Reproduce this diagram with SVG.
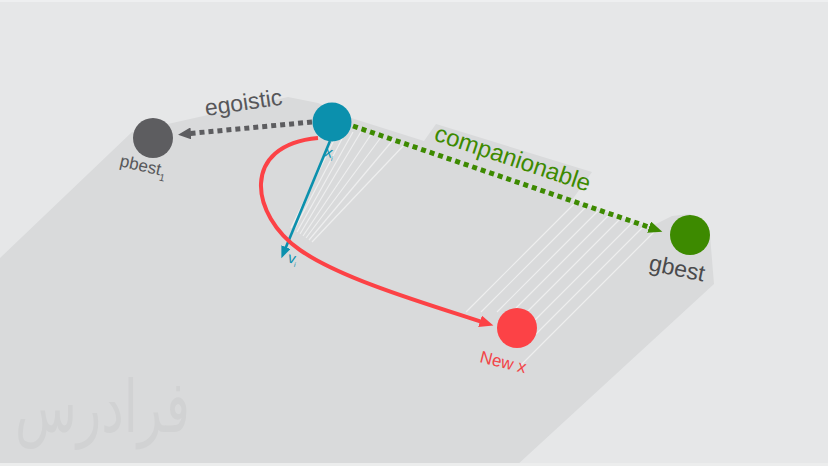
<svg xmlns="http://www.w3.org/2000/svg" width="828" height="466" viewBox="0 0 828 466">
<style>
.lbl{font-family:"Liberation Sans",Arial,sans-serif}
.hatch{stroke:#ffffff;stroke-opacity:0.55;stroke-width:1.2;fill:none}
</style>
<defs>
<marker id="ahGray" markerUnits="userSpaceOnUse" markerWidth="14" markerHeight="12" refX="1" refY="6" orient="auto"><path d="M0,0 L13,6 L0,12 z" fill="#5d5d60"/></marker>
<marker id="ahGreen" markerUnits="userSpaceOnUse" markerWidth="15" markerHeight="12" refX="1" refY="6" orient="auto"><path d="M0,0 L14,6 L0,12 z" fill="#3d8a00"/></marker>
<marker id="ahTeal" markerUnits="userSpaceOnUse" markerWidth="13" markerHeight="10" refX="1" refY="5" orient="auto"><path d="M0,0 L12,5 L0,10 z" fill="#0b90ad"/></marker>
<marker id="ahRed" markerUnits="userSpaceOnUse" markerWidth="15" markerHeight="12" refX="1" refY="6" orient="auto"><path d="M0,0 L14,6 L0,12 z" fill="#fc4246"/></marker>
</defs>
<rect x="0" y="0" width="828" height="466" fill="#e6e7e8"/>
<rect x="0" y="0" width="828" height="2" fill="#eeeff0"/>
<polygon points="0,258 132,132 288,97 318,103 348,117 424,141 436,124 592,172 572,200 650,227 672,216 690,214 710,235 714,284 516,466 0,466" fill="#d9dadb"/>
<rect x="0" y="463" width="828" height="3" fill="#eceded"/>
<text x="15" y="432" font-family="'DejaVu Sans',sans-serif" font-size="72" fill="#d1d2d3" textLength="175" lengthAdjust="spacingAndGlyphs">فرادرس</text>
<g id="hatching">
<line class="hatch" x1="334" y1="140" x2="291" y2="228"/>
<line class="hatch" x1="343" y1="137" x2="294" y2="230"/>
<line class="hatch" x1="353" y1="132" x2="297" y2="232"/>
<line class="hatch" x1="362" y1="130" x2="300" y2="234"/>
<line class="hatch" x1="372" y1="133" x2="303" y2="236"/>
<line class="hatch" x1="382" y1="136" x2="306" y2="238"/>
<line class="hatch" x1="393" y1="140" x2="309" y2="240"/>
<line class="hatch" x1="405" y1="144" x2="312" y2="242"/>
<line class="hatch" x1="575" y1="203" x2="466" y2="312"/>
<line class="hatch" x1="586" y1="207" x2="481" y2="312"/>
<line class="hatch" x1="598" y1="211" x2="497" y2="312"/>
<line class="hatch" x1="609" y1="215" x2="516" y2="308"/>
<line class="hatch" x1="620" y1="219" x2="528" y2="311"/>
<line class="hatch" x1="632" y1="223" x2="535" y2="320"/>
<line class="hatch" x1="643" y1="227" x2="536" y2="334"/>
<line class="hatch" x1="655" y1="231" x2="520" y2="366"/>
</g>
<g id="connectors">
<line x1="312" y1="122" x2="190" y2="133.5" stroke="#5d5d60" stroke-width="5" stroke-dasharray="5 4" marker-end="url(#ahGray)"/>
<line x1="353" y1="126" x2="650" y2="227.5" stroke="#3d8a00" stroke-width="5" stroke-dasharray="5 4" marker-end="url(#ahGreen)"/>
<line x1="330" y1="141" x2="285.6" y2="248" stroke="#0b90ad" stroke-width="2.6" marker-end="url(#ahTeal)"/>
<path d="M318,138 C240,145 250,215 300,250 C340,278 420,302 481,321.6" fill="none" stroke="#fc4246" stroke-width="4" marker-end="url(#ahRed)"/>
<text class="lbl" x="206" y="116" transform="rotate(-8.5 206 116)" font-size="23" fill="#57575a">egoistic</text>
<text class="lbl" x="433" y="140" transform="rotate(18.5 433 140)" font-size="24" fill="#3d8a00">companionable</text>
<text class="lbl" x="287" y="262" transform="rotate(15 287 262)" font-size="15" fill="#0b90ad">v<tspan font-size="7" dy="3">i</tspan></text>
</g>
<g id="pbest">
<circle cx="153" cy="138" r="20" fill="#5d5d60"/>
<text class="lbl" x="119" y="166" transform="rotate(13 119 166)" font-size="17" fill="#57575a">pbest<tspan font-size="10" dy="5">1</tspan></text>
</g>
<g id="x">
<circle cx="332" cy="122" r="19.5" fill="#0b90ad"/>
<text class="lbl" x="324" y="156" transform="rotate(15 324 156)" font-size="15" fill="#0b90ad">x<tspan font-size="7" dy="3">i</tspan></text>
</g>
<g id="gbest">
<circle cx="690" cy="235" r="20" fill="#3d8a00"/>
<text class="lbl" x="648" y="270" transform="rotate(12 648 270)" font-size="23" fill="#4a4a4c">gbest</text>
</g>
<g id="newx">
<circle cx="517" cy="328" r="20" fill="#fc4246"/>
<text class="lbl" x="479" y="362" transform="rotate(14 479 362)" font-size="17" fill="#f24447">New x</text>
</g>
</svg>
